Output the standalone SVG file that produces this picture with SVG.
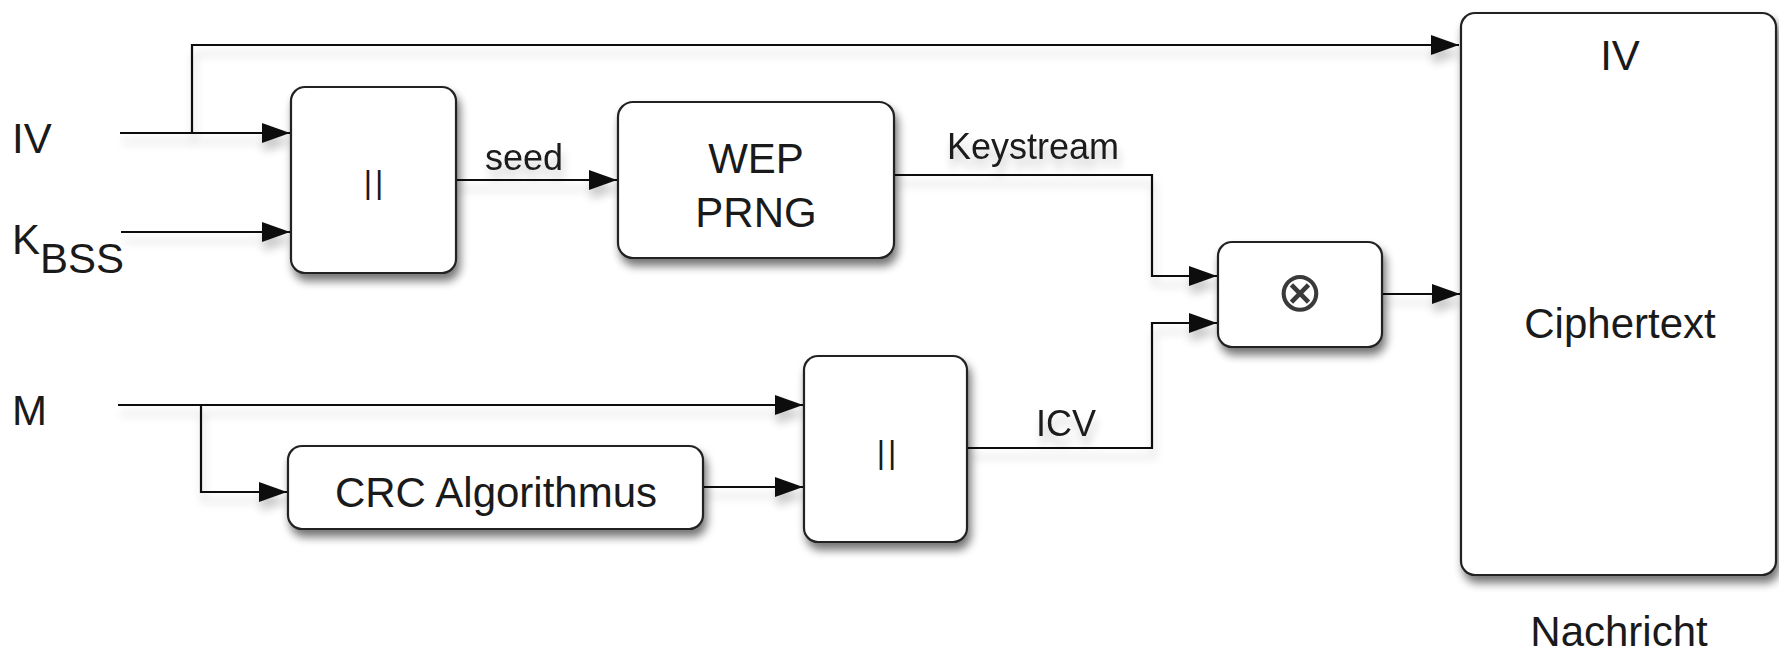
<svg xmlns="http://www.w3.org/2000/svg" width="1779" height="655" viewBox="0 0 1779 655">
<style>
  .box { fill: #ffffff; stroke: #222222; stroke-width: 2.2; }
  .lbl { font-family: "Liberation Sans", Arial, Helvetica, sans-serif; font-size: 42px; fill: #1a1a1a; }
  .edge { font-family: "Liberation Sans", Arial, Helvetica, sans-serif; font-size: 36px; fill: #1a1a1a; }
  .mid { text-anchor: middle; }
  .conn { fill: none; stroke: #111111; stroke-width: 2.2; }
</style>
<defs>
  <filter id="shadow" x="-20%" y="-20%" width="150%" height="150%">
    <feGaussianBlur in="SourceAlpha" stdDeviation="5"/>
    <feOffset dx="3" dy="7" result="b"/>
    <feComponentTransfer><feFuncA type="linear" slope="0.55"/></feComponentTransfer>
    <feMerge><feMergeNode/><feMergeNode in="SourceGraphic"/></feMerge>
  </filter>
  <filter id="lshadow" x="-5%" y="-50%" width="110%" height="300%">
    <feGaussianBlur in="SourceAlpha" stdDeviation="5"/>
    <feOffset dx="2" dy="9" result="b"/>
    <feComponentTransfer><feFuncA type="linear" slope="0.22"/></feComponentTransfer>
    <feMerge><feMergeNode/><feMergeNode in="SourceGraphic"/></feMerge>
  </filter>
  <marker id="ah" markerWidth="28" markerHeight="20" refX="28" refY="10" orient="auto" markerUnits="userSpaceOnUse">
    <path d="M0,0 L28,10 L0,20 z" fill="#111111"/>
  </marker>
</defs>
<rect width="1779" height="655" fill="#ffffff"/>

<g id="connectors" filter="url(#lshadow)">
  <path class="conn" d="M192,133 V45 H1459" marker-end="url(#ah)"/>
  <path class="conn" d="M120,133 H290" marker-end="url(#ah)"/>
  <path class="conn" d="M121,232 H290" marker-end="url(#ah)"/>
  <path class="conn" d="M456,180 H617" marker-end="url(#ah)"/>
  <path class="conn" d="M894,175 H1152 V276 H1217" marker-end="url(#ah)"/>
  <path class="conn" d="M967,448 H1152 V323 H1217" marker-end="url(#ah)"/>
  <path class="conn" d="M1382,294 H1460" marker-end="url(#ah)"/>
  <path class="conn" d="M118,405 H803" marker-end="url(#ah)"/>
  <path class="conn" d="M201,405 V492 H287" marker-end="url(#ah)"/>
  <path class="conn" d="M703,487 H803" marker-end="url(#ah)"/>
  <text class="edge" x="485" y="170">seed</text>
  <text class="edge" x="947" y="159">Keystream</text>
  <text class="edge" x="1036" y="436">ICV</text>
</g>

<g id="input-iv">
  <text class="lbl" x="12" y="153">IV</text>
</g>
<g id="input-kbss">
  <text class="lbl" x="12" y="254">K<tspan dy="19">BSS</tspan></text>
</g>
<g id="input-m">
  <text class="lbl" x="12" y="425">M</text>
</g>

<g id="concat1">
  <rect class="box" x="291" y="87" width="165" height="186" rx="14" filter="url(#shadow)"/>
  <text class="lbl mid" x="375" y="193" style="font-size:32px;letter-spacing:3px">||</text>
</g>

<g id="wep-prng">
  <rect class="box" x="618" y="102" width="276" height="156" rx="15" filter="url(#shadow)"/>
  <text class="lbl mid" x="756" y="173">WEP</text>
  <text class="lbl mid" x="756" y="227">PRNG</text>
</g>

<g id="crc">
  <rect class="box" x="288" y="446" width="415" height="83" rx="14" filter="url(#shadow)"/>
  <text class="lbl mid" x="496" y="507">CRC Algorithmus</text>
</g>

<g id="concat2">
  <rect class="box" x="804" y="356" width="163" height="186" rx="14" filter="url(#shadow)"/>
  <text class="lbl mid" x="888" y="463" style="font-size:32px;letter-spacing:3px">||</text>
</g>

<g id="xor">
  <rect class="box" x="1218" y="242" width="164" height="105" rx="14" filter="url(#shadow)"/>
  <text class="mid" x="1300" y="311" style="font-family:'DejaVu Sans',sans-serif;font-size:56px;fill:#3a3a3a">⊗</text>
</g>

<g id="nachricht">
  <rect class="box" x="1461" y="13" width="315" height="562" rx="14" filter="url(#shadow)"/>
  <text class="lbl mid" x="1620" y="70">IV</text>
  <text class="lbl mid" x="1620" y="338">Ciphertext</text>
  <text class="lbl mid" x="1619" y="646">Nachricht</text>
</g>
</svg>
